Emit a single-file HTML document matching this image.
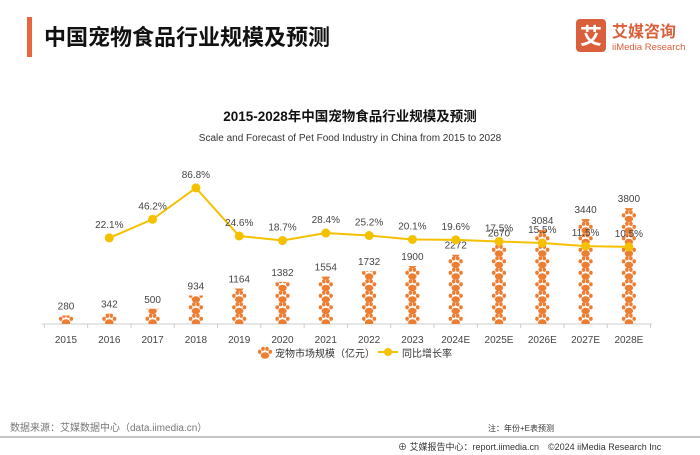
<!DOCTYPE html>
<html><head><meta charset="utf-8"><style>
body{margin:0;width:700px;height:455px;background:#fff;font-family:"Liberation Sans","Noto Sans CJK SC",sans-serif;overflow:hidden;position:relative}
</style></head><body>
<svg width="700" height="455" viewBox="0 0 700 455" xmlns="http://www.w3.org/2000/svg" style="position:absolute;left:0;top:0" font-family="Liberation Sans, Noto Sans CJK SC, sans-serif">
<rect x="27" y="17" width="5" height="40" fill="#E8663D"/>
<text x="44" y="45" font-size="22" font-weight="bold" fill="#111">中国宠物食品行业规模及预测</text>
<g>
<rect x="576" y="19" width="30" height="33" rx="4" fill="#D9603B"/>
<text x="591" y="44" font-size="22" font-weight="bold" fill="#fff" text-anchor="middle">艾</text>
<text x="612" y="37" font-size="16" font-weight="bold" fill="#D9603B">艾媒咨询</text>
<text x="612" y="50" font-size="9.5" fill="#D9603B">iiMedia Research</text>
</g>
<text x="350" y="121" font-size="13.5" font-weight="bold" fill="#111" text-anchor="middle">2015-2028年中国宠物食品行业规模及预测</text>
<text x="350" y="141" font-size="10" fill="#333" text-anchor="middle">Scale and Forecast of Pet Food Industry in China from 2015 to 2028</text>
<defs>
<g id="paw">
<ellipse cx="0" cy="2.5" rx="4.2" ry="3.2"/>
<ellipse cx="-5.3" cy="-1.2" rx="1.8" ry="2.1"/>
<ellipse cx="5.3" cy="-1.2" rx="1.8" ry="2.1"/>
<ellipse cx="-2" cy="-4.2" rx="1.8" ry="2.1"/>
<ellipse cx="2" cy="-4.2" rx="1.8" ry="2.1"/>
</g>
</defs>
<g id="plot"></g>
<g>
<use href="#paw" x="265" y="353" fill="#ED7D31"/>
<text x="275" y="357" font-size="10" fill="#333">宠物市场规模（亿元）</text>
<line x1="378" y1="352" x2="398" y2="352" stroke="#F5C000" stroke-width="2"/>
<circle cx="388" cy="352" r="4" fill="#F5C000"/>
<text x="402" y="357" font-size="10" fill="#333">同比增长率</text>
</g>
<text x="10" y="431" font-size="10" fill="#777">数据来源：艾媒数据中心（data.iimedia.cn）</text>
<text x="488" y="431" font-size="8" fill="#333">注：年份+E表预测</text>
<line x1="0" y1="437" x2="700" y2="437" stroke="#888" stroke-width="1"/>
<text x="398" y="450" font-size="9" fill="#333">⊕ 艾媒报告中心：report.iimedia.cn　©2024  iiMedia Research  Inc</text>
</svg>
<script>
const categories=["2015","2016","2017","2018","2019","2020","2021","2022","2023","2024E","2025E","2026E","2027E","2028E"];
const marketSize=[280,342,500,934,1164,1382,1554,1732,1900,2272,2670,3084,3440,3800];
const growthRate=[null,22.1,46.2,86.8,24.6,18.7,28.4,25.2,20.1,19.6,17.5,15.5,11.5,10.5];
const NS="http://www.w3.org/2000/svg";
const plot=document.getElementById('plot');
const x0=66,step=43.3,base=324;
const xs=i=>x0+i*step;
const yBar=v=>base-v*0.0305;
const yLine=v=>255-v*0.773;
function mk(t,a,p){const e=document.createElementNS(NS,t);for(const k in a)e.setAttribute(k,a[k]);(p||plot).appendChild(e);return e;}
const ax=mk('line',{x1:42,y1:base,x2:652,y2:base,stroke:'#ccc'});


for(let i=0;i<=categories.length;i++){const t=mk('line',{x1:xs(i)-step/2,y1:base,x2:xs(i)-step/2,y2:base+4,stroke:'#ccc'});

}
const defs=document.querySelector('defs');
categories.forEach((c,i)=>{
 const cx=xs(i),top=yBar(marketSize[i]);
 const cp=mk('clipPath',{id:'cp'+i},defs);mk('rect',{x:cx-10,y:top,width:20,height:base-top},cp);
 const g=mk('g',{'clip-path':'url(#cp'+i+')',fill:'#ED7D31'});
 
 
 for(let y=base-4;y>top-12;y-=11.5){mk('use',{href:'#paw',x:cx,y:y},g);}
 const lb=mk('text',{x:cx,y:top-6,'font-size':10,fill:'#444','text-anchor':'middle'});lb.textContent=marketSize[i];
 
 
 const xl=mk('text',{x:cx,y:343,'font-size':10,fill:'#444','text-anchor':'middle'});xl.textContent=c;
 
 
});
let d='';growthRate.forEach((v,i)=>{if(v==null)return;d+=(d?'L':'M')+xs(i)+','+yLine(v);});
const ln=mk('path',{d:d,fill:'none',stroke:'#F5C000','stroke-width':2});


growthRate.forEach((v,i)=>{if(v==null)return;
 const p=mk('circle',{cx:xs(i),cy:yLine(v),r:4.5,fill:'#F5C000'});
 
 
 const t=mk('text',{x:xs(i),y:yLine(v)-10,'font-size':10,fill:'#444','text-anchor':'middle'});t.textContent=v.toFixed(1)+'%';
 
 
});
</script>
</body></html>
